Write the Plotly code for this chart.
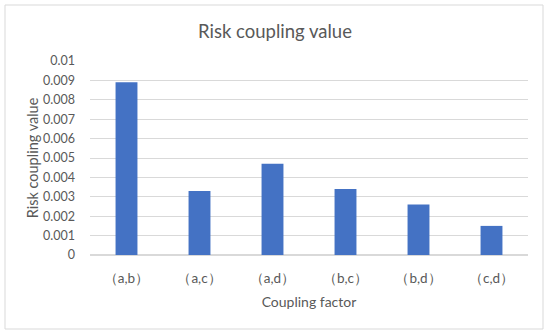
import plotly.graph_objects as go

categories = ["（a,b）", "（a,c）", "（a,d）", "（b,c）", "（b,d）", "（c,d）"]
values = [0.0089, 0.0033, 0.0047, 0.0034, 0.0026, 0.0015]
y_tickvals = [0, 0.001, 0.002, 0.003, 0.004, 0.005, 0.006, 0.007, 0.008, 0.009, 0.01]
y_ticktext = ["0", "0.001", "0.002", "0.003", "0.004", "0.005", "0.006", "0.007", "0.008", "0.009", "0.01"]

FONT = "Lato, 'Open Sans', sans-serif"
GRAY = "#595959"

fig = go.Figure(go.Bar(x=categories, y=values, marker=dict(color="#4472C4", line=dict(width=0)), width=0.3))

L, R, T, B = 90, 22, 61, 80
W, H = 550, 335
pw, ph = W - L - R, H - T - B

fig.update_layout(
    width=W, height=H,
    margin=dict(l=L, r=R, t=T, b=B),
    paper_bgcolor="white", plot_bgcolor="white",
    showlegend=False,
    title=dict(text="Risk coupling value", x=0.5, xanchor="center", y=1 - 32 / H, yanchor="middle",
               font=dict(family=FONT, size=18.5, color=GRAY)),
    font=dict(family=FONT, color=GRAY),
    xaxis=dict(showgrid=False, showline=False, ticks="", tickfont=dict(size=13.5, color=GRAY),
               ticklabelstandoff=13,
               title=dict(text="Coupling factor", font=dict(size=14, color=GRAY), standoff=12)),
    yaxis=dict(range=[0, 0.01], tickvals=y_tickvals, ticktext=y_ticktext, showgrid=True,
               gridcolor="#D9D9D9", gridwidth=1, zeroline=True, zerolinecolor="#D9D9D9", showline=False,
               tickfont=dict(size=12.5, color=GRAY), ticklabelstandoff=14,
               title=dict(text="Risk coupling value", font=dict(size=14.5, color=GRAY), standoff=0)),
    shapes=[dict(type="rect", xref="paper", yref="paper",
                 x0=(5 - L) / pw, x1=(543 - L) / pw, y0=(H - B - 329) / ph, y1=(H - B - 5) / ph,
                 line=dict(color="#D9D9D9", width=1), fillcolor="rgba(0,0,0,0)", layer="below")],
)

fig.write_html("out.html", config={"displayModeBar": False},
               post_script="document.body.style.margin='0';")
